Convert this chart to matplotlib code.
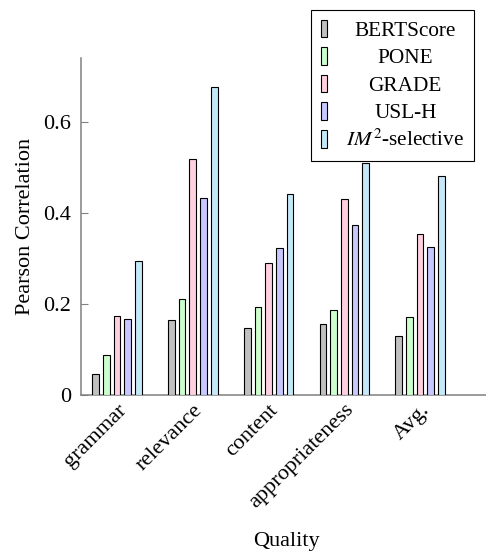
import numpy as np
import matplotlib
matplotlib.use("Agg")
import matplotlib.pyplot as plt

plt.rcParams['font.family'] = ['Liberation Serif', 'DejaVu Serif']
plt.rcParams['mathtext.fontset'] = 'stix'

categories = ["grammar", "relevance", "content", "appropriateness", "Avg."]
methods = ["BERTScore", "PONE", "GRADE", "USL-H", r"$IM^2$-selective"]
bertscore = [0.046, 0.165, 0.148, 0.157, 0.129]
pone = [0.089, 0.211, 0.193, 0.187, 0.171]
grade = [0.174, 0.519, 0.290, 0.430, 0.353]
usl_h = [0.168, 0.432, 0.322, 0.374, 0.325]
im2_selective = [0.294, 0.677, 0.442, 0.509, 0.481]

series = [bertscore, pone, grade, usl_h, im2_selective]
colors = ["#c0c0c0", "#ccffcc", "#ffd0e0", "#c8c8ff", "#c4e8f8"]

fig = plt.figure(figsize=(4.86, 5.53), dpi=100)
ax = fig.add_axes([0.166, 0.2857, 0.834, 0.609])

x = np.arange(len(categories))
step = 0.141
width = 0.088
for i, (vals, col, name) in enumerate(zip(series, colors, methods)):
    ax.bar(x + (i - 2) * step, vals, width, color=col, edgecolor="black",
           linewidth=0.8, label=name, zorder=3)

ax.set_xlim(-0.48, 4.87)
ax.set_ylim(0, 0.74)
ax.set_yticks([0, 0.2, 0.4, 0.6])
ax.set_yticklabels(["0", "0.2", "0.4", "0.6"])
ax.set_xticks(x)
ax.set_xticklabels(categories, rotation=45, ha="right", va="top",
                   rotation_mode="anchor")

for s in ["top", "right"]:
    ax.spines[s].set_visible(False)
for s in ["left", "bottom"]:
    ax.spines[s].set_color("#808080")
    ax.spines[s].set_linewidth(1.1)
ax.tick_params(axis="both", direction="in", length=5, width=0.8,
               color="#808080", labelsize=16)
ax.tick_params(axis="y", pad=7)
ax.tick_params(axis="x", pad=4)

ax.set_ylabel("Pearson Correlation", fontsize=16, labelpad=6)
fig.text(0.59, 0.02, "Quality", fontsize=16, ha="center", va="center")

leg = ax.legend(loc="upper right", bbox_to_anchor=(0.975, 0.982),
                bbox_transform=fig.transFigure, fontsize=15.3,
                fancybox=False, edgecolor="black", framealpha=1,
                handlelength=0.3, handleheight=0.9, handletextpad=0.9,
                labelspacing=0.3, borderpad=0.45, borderaxespad=0)
leg.get_frame().set_linewidth(0.8)

# centre the legend texts like the original
fig.canvas.draw()
r = fig.canvas.get_renderer()
widths = [t.get_window_extent(r).width for t in leg.get_texts()]
wmax = max(widths)
for t, w in zip(leg.get_texts(), widths):
    t.set_x((wmax - w) / 2)

fig.savefig("out.png", dpi=100)
